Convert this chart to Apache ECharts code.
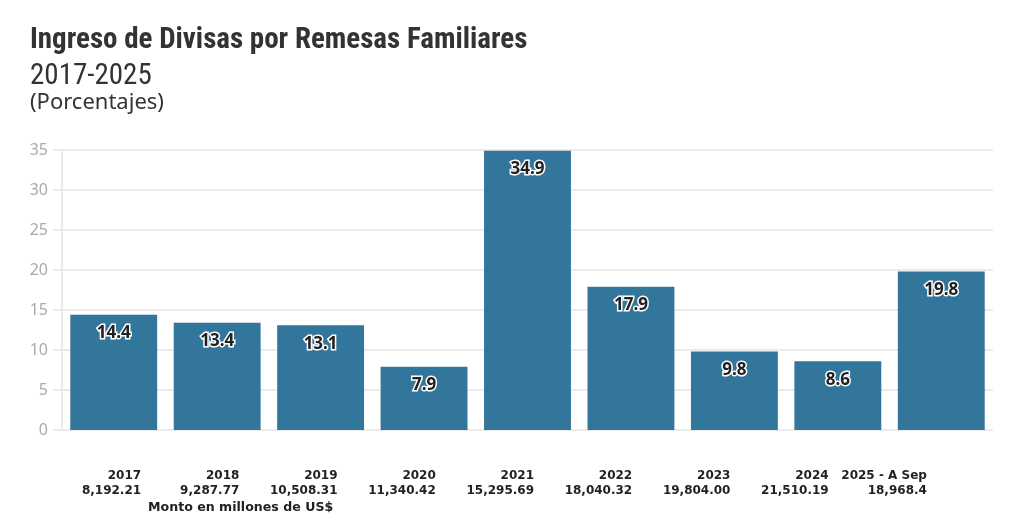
<!DOCTYPE html>
<html><head><meta charset="utf-8">
<script src="https://cdn.jsdelivr.net/npm/echarts@6/dist/echarts.min.js"></script>
<style>html,body{margin:0;padding:0;background:#fff}#c{width:1016px;height:521px}</style>
</head><body><div id="c"></div>
<script>
const categories = ['2017','2018','2019','2020','2021','2022','2023','2024','2025 - A Sep'];
const amounts = ['8,192.21','9,287.77','10,508.31','11,340.42','15,295.69','18,040.32','19,804.00','21,510.19','18,968.4'];
const percentages = [14.4, 13.4, 13.1, 7.9, 34.9, 17.9, 9.8, 8.6, 19.8];
const yTicks = [0, 5, 10, 15, 20, 25, 30, 35];

const bottomLabels = categories.map((c, i) => c + '\n' + amounts[i]);
const chart = echarts.init(document.getElementById('c'));
const condensed = "'Roboto Condensed','Liberation Sans Narrow','DejaVu Sans Condensed',Roboto,sans-serif";
chart.setOption({
  animation: false,
  title: [
    {text: 'Ingreso de Divisas por Remesas Familiares', left: 25, top: 21,
     textStyle: {fontFamily: condensed, fontWeight: 'bold', fontSize: 29, color: '#333'}},
    {text: '2017-2025', left: 25, top: 57,
     textStyle: {fontFamily: condensed, fontWeight: 'normal', fontSize: 29, color: '#333'}},
    {text: '(Porcentajes)', left: 25, top: 87,
     textStyle: {fontFamily: "'Noto Sans',sans-serif", fontWeight: 'normal', fontSize: 22, color: '#333'}}
  ],
  grid: [
    {left: 62, right: 23, top: 150, bottom: 91},
    {left: 92, right: 40, top: 150, bottom: 91}
  ],
  xAxis: [
    {type: 'category', gridIndex: 0, data: categories,
     axisLine: {show: false}, axisTick: {show: false}, axisLabel: {show: false}},
    {type: 'category', gridIndex: 1, data: bottomLabels,
     axisLine: {show: false}, axisTick: {show: false},
     axisLabel: {margin: 38, align: 'right', interval: 0, fontFamily: "'DejaVu Sans',sans-serif",
       fontWeight: 'bold', fontSize: 12, color: '#222', lineHeight: 15}}
  ],
  yAxis: [
    {type: 'value', gridIndex: 0, min: 0, max: 35, interval: 5,
     axisLine: {show: true, lineStyle: {color: '#ebebeb', width: 2}},
     axisTick: {show: true, length: 9, lineStyle: {color: '#ebebeb', width: 2}},
     splitLine: {lineStyle: {color: '#ebebeb', width: 2}},
     axisLabel: {margin: 14, fontFamily: "'Noto Sans',sans-serif", fontSize: 16, color: '#aaaaaa',
       formatter: v => yTicks.includes(v) ? String(v) : ''}},
    {type: 'value', gridIndex: 1, show: false, min: 0, max: 35}
  ],
  series: [{
    type: 'bar', xAxisIndex: 0, yAxisIndex: 0, data: percentages,
    barCategoryGap: '16%',
    itemStyle: {color: '#33769c'},
    label: {show: true, position: 'insideTop', distance: 10,
      formatter: p => p.value.toFixed(1),
      fontFamily: "'Noto Sans',sans-serif", fontWeight: 'bold', fontSize: 17, color: '#222',
      textBorderColor: '#fff', textBorderWidth: 3}
  }],
  graphic: [{type: 'text', left: 148, top: 501,
    style: {text: 'Monto en millones de US$', fontFamily: "'DejaVu Sans',sans-serif", fontWeight: 'bold',
      fontSize: 12.6, fill: '#222'}}]
});
</script></body></html>
